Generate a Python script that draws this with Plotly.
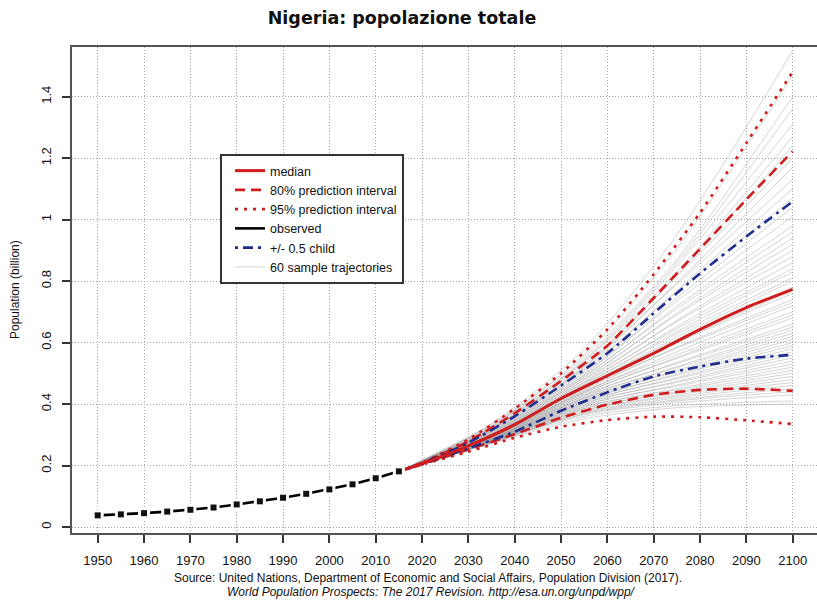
import plotly.graph_objects as go

# Observed population, 1950-2015 (billions)
obs_years = [1950, 1955, 1960, 1965, 1970, 1975, 1980, 1985, 1990, 1995, 2000, 2005, 2010, 2015]
obs_pop = [0.0379, 0.0411, 0.0451, 0.0501, 0.0560, 0.0634, 0.0734, 0.0836, 0.0953,
           0.1080, 0.1224, 0.1389, 0.1586, 0.1811]

# Projection summary lines, 2015-2100 (billions)
proj_years = [2015, 2020, 2030, 2040, 2050, 2060, 2070, 2080, 2090, 2100]
median = [0.181, 0.206, 0.264, 0.333, 0.418, 0.492, 0.565, 0.643, 0.714, 0.773]
pi80_low = [0.181, 0.204, 0.252, 0.302, 0.355, 0.398, 0.430, 0.446, 0.450, 0.443]
pi80_high = [0.181, 0.208, 0.278, 0.370, 0.475, 0.590, 0.745, 0.905, 1.065, 1.222]
pi95_low = [0.181, 0.203, 0.245, 0.290, 0.326, 0.348, 0.359, 0.357, 0.347, 0.335]
pi95_high = [0.181, 0.209, 0.285, 0.385, 0.500, 0.643, 0.822, 1.022, 1.249, 1.481]
child_low = [0.181, 0.205, 0.256, 0.310, 0.378, 0.438, 0.490, 0.522, 0.548, 0.560]
child_high = [0.181, 0.207, 0.274, 0.360, 0.460, 0.565, 0.695, 0.825, 0.945, 1.059]

# Sample trajectories (values at traj_years)
traj_years = [2015, 2035, 2055, 2075, 2100]
trajectories = [
    [0.181, 0.336, 0.580, 0.950, 1.55],
    [0.181, 0.330, 0.560, 0.905, 1.47],
    [0.181, 0.334, 0.552, 0.870, 1.40],
    [0.181, 0.325, 0.545, 0.860, 1.36],
    [0.181, 0.320, 0.538, 0.850, 1.31],
    [0.181, 0.328, 0.540, 0.830, 1.27],
    [0.181, 0.318, 0.520, 0.820, 1.24],
    [0.181, 0.322, 0.528, 0.815, 1.20],
    [0.181, 0.315, 0.515, 0.795, 1.17],
    [0.181, 0.320, 0.522, 0.790, 1.13],
    [0.181, 0.312, 0.505, 0.770, 1.10],
    [0.181, 0.316, 0.512, 0.765, 1.07],
    [0.181, 0.308, 0.495, 0.745, 1.04],
    [0.181, 0.312, 0.500, 0.735, 1.01],
    [0.181, 0.305, 0.488, 0.718, 0.98],
    [0.181, 0.310, 0.492, 0.710, 0.96],
    [0.181, 0.302, 0.480, 0.695, 0.94],
    [0.181, 0.306, 0.485, 0.690, 0.92],
    [0.181, 0.300, 0.472, 0.672, 0.90],
    [0.181, 0.303, 0.478, 0.668, 0.88],
    [0.181, 0.298, 0.466, 0.652, 0.86],
    [0.181, 0.301, 0.470, 0.645, 0.84],
    [0.181, 0.296, 0.460, 0.635, 0.83],
    [0.181, 0.299, 0.463, 0.628, 0.81],
    [0.181, 0.294, 0.455, 0.618, 0.80],
    [0.181, 0.298, 0.458, 0.610, 0.78],
    [0.181, 0.295, 0.452, 0.602, 0.77],
    [0.181, 0.300, 0.460, 0.600, 0.76],
    [0.181, 0.292, 0.445, 0.585, 0.74],
    [0.181, 0.296, 0.450, 0.582, 0.73],
    [0.181, 0.290, 0.440, 0.570, 0.72],
    [0.181, 0.294, 0.442, 0.560, 0.70],
    [0.181, 0.289, 0.435, 0.552, 0.69],
    [0.181, 0.292, 0.438, 0.548, 0.68],
    [0.181, 0.287, 0.428, 0.535, 0.66],
    [0.181, 0.291, 0.432, 0.532, 0.65],
    [0.181, 0.286, 0.422, 0.522, 0.64],
    [0.181, 0.289, 0.426, 0.518, 0.63],
    [0.181, 0.284, 0.418, 0.510, 0.62],
    [0.181, 0.288, 0.420, 0.505, 0.61],
    [0.181, 0.283, 0.412, 0.498, 0.60],
    [0.181, 0.286, 0.415, 0.494, 0.59],
    [0.181, 0.282, 0.407, 0.486, 0.58],
    [0.181, 0.285, 0.410, 0.482, 0.57],
    [0.181, 0.281, 0.402, 0.474, 0.56],
    [0.181, 0.284, 0.404, 0.470, 0.55],
    [0.181, 0.280, 0.396, 0.462, 0.54],
    [0.181, 0.283, 0.398, 0.458, 0.53],
    [0.181, 0.279, 0.390, 0.450, 0.52],
    [0.181, 0.282, 0.392, 0.446, 0.51],
    [0.181, 0.278, 0.385, 0.440, 0.50],
    [0.181, 0.280, 0.386, 0.436, 0.49],
    [0.181, 0.277, 0.380, 0.430, 0.48],
    [0.181, 0.279, 0.380, 0.425, 0.47],
    [0.181, 0.276, 0.374, 0.420, 0.46],
    [0.181, 0.278, 0.372, 0.414, 0.45],
    [0.181, 0.275, 0.368, 0.410, 0.44],
    [0.181, 0.277, 0.366, 0.404, 0.43],
    [0.181, 0.274, 0.360, 0.395, 0.41],
    [0.181, 0.272, 0.352, 0.388, 0.40],
]

x_ticks = list(range(1950, 2101, 10))
y_ticks = [0, 0.2, 0.4, 0.6, 0.8, 1.0, 1.2, 1.4]
y_tick_text = ["0", "0.2", "0.4", "0.6", "0.8", "1", "1.2", "1.4"]

RED = "#d01c1c"
BLUE = "#1f2f8f"
GRAY = "rgba(150,150,150,0.5)"

fig = go.Figure()

for i, tr in enumerate(trajectories):
    fig.add_trace(go.Scatter(
        x=traj_years, y=tr, mode="lines",
        line=dict(color=GRAY, width=0.8, shape="spline", smoothing=0.8),
        name="60 sample trajectories", legendgroup="traj",
        showlegend=(i == 0), legendrank=6, hoverinfo="skip"))

def band(y, name, color, dash, rank, legend=True, group=None, width=2.6):
    fig.add_trace(go.Scatter(
        x=proj_years, y=y, mode="lines", name=name,
        line=dict(color=color, width=width, dash=dash, shape="spline", smoothing=0.6),
        showlegend=legend, legendrank=rank, legendgroup=group or name))

band(pi95_low, "95% prediction interval", RED, "3px,6px", 3, legend=False, group="pi95")
band(pi95_high, "95% prediction interval", RED, "3px,6px", 3, group="pi95")
band(pi80_low, "80% prediction interval", RED, "10px,6px", 2, legend=False, group="pi80")
band(pi80_high, "80% prediction interval", RED, "10px,6px", 2, group="pi80")
band(child_low, "+/- 0.5 child", BLUE, "3px,5px,10px,5px", 5, legend=False, group="child")
band(child_high, "+/- 0.5 child", BLUE, "3px,5px,10px,5px", 5, group="child")
band(median, "median", RED, "solid", 1, width=3)

# observed series: line, white gaps around points, then point symbols
fig.add_trace(go.Scatter(
    x=obs_years, y=obs_pop, mode="lines", name="observed",
    line=dict(color="black", width=2.6), legendrank=4))
fig.add_trace(go.Scatter(
    x=obs_years, y=obs_pop, mode="markers", showlegend=False,
    marker=dict(symbol="square", size=12, color="white")))
fig.add_trace(go.Scatter(
    x=obs_years, y=obs_pop, mode="markers", showlegend=False,
    marker=dict(symbol="square", size=6, color="#111", line=dict(width=0))))

W, H = 817, 609
L, R, T, B = 72, 0, 47, 76
plot_w, plot_h = W - L - R, H - T - B

axis_font = dict(family="Liberation Sans, Arial, sans-serif", size=13, color="#111")

fig.update_layout(
    width=W, height=H,
    margin=dict(l=L, r=R, t=T, b=B),
    paper_bgcolor="white", plot_bgcolor="white",
    title=dict(text="<b>Nigeria: popolazione totale</b>",
               font=dict(family="DejaVu Sans, sans-serif", size=17.5, color="#111"),
               x=402 / W, xref="container", xanchor="center",
               y=1 - 18 / H, yref="container", yanchor="middle"),
    showlegend=True,
    legend=dict(x=(220 - L) / plot_w, y=(H - B - 154) / plot_h,
                xanchor="left", yanchor="top", indentation=8,
                bgcolor="white", bordercolor="#333", borderwidth=2,
                font=dict(family="Liberation Sans, Arial, sans-serif", size=12.5, color="#111"),
                tracegroupgap=0, traceorder="normal"),
    xaxis=dict(range=[1944.45, 2105.25], tickvals=x_ticks,
               showgrid=True, gridcolor="#a8a8a8", griddash="1px,2px", gridwidth=1,
               showline=True, linecolor="#555", linewidth=2, mirror=True,
               ticks="outside", ticklen=8, tickwidth=1.5, tickcolor="#333",
               ticklabelstandoff=6,
               tickfont=axis_font, zeroline=False),
    yaxis=dict(range=[-0.0195, 1.5615], tickvals=y_ticks, ticktext=y_tick_text,
               tickangle=-90,
               showgrid=True, gridcolor="#a8a8a8", griddash="1px,2px", gridwidth=1,
               showline=True, linecolor="#555", linewidth=2, mirror=False,
               ticks="outside", ticklen=8, tickwidth=1.5, tickcolor="#333",
               ticklabelstandoff=6,
               tickfont=axis_font, zeroline=False),
    annotations=[
        dict(text="Population (billion)", textangle=-90, showarrow=False,
             xref="paper", yref="paper", x=(15 - L) / plot_w, y=(H - B - 290) / plot_h,
             xanchor="center", yanchor="middle",
             font=dict(family="Liberation Sans, Arial, sans-serif", size=12, color="#111")),
        dict(text="Source: United Nations, Department of Economic and Social Affairs, Population Division (2017).",
             showarrow=False, xref="paper", yref="paper",
             x=(428 - L) / plot_w, y=(H - B - 578) / plot_h, xanchor="center", yanchor="middle",
             font=dict(family="Liberation Sans, Arial, sans-serif", size=12, color="#111")),
        dict(text="<i>World Population Prospects: The 2017 Revision. http://esa.un.org/unpd/wpp/</i>",
             showarrow=False, xref="paper", yref="paper",
             x=(431 - L) / plot_w, y=(H - B - 592) / plot_h, xanchor="center", yanchor="middle",
             font=dict(family="Liberation Sans, Arial, sans-serif", size=12, color="#111")),
    ],
)

fig.write_html("out.html")
